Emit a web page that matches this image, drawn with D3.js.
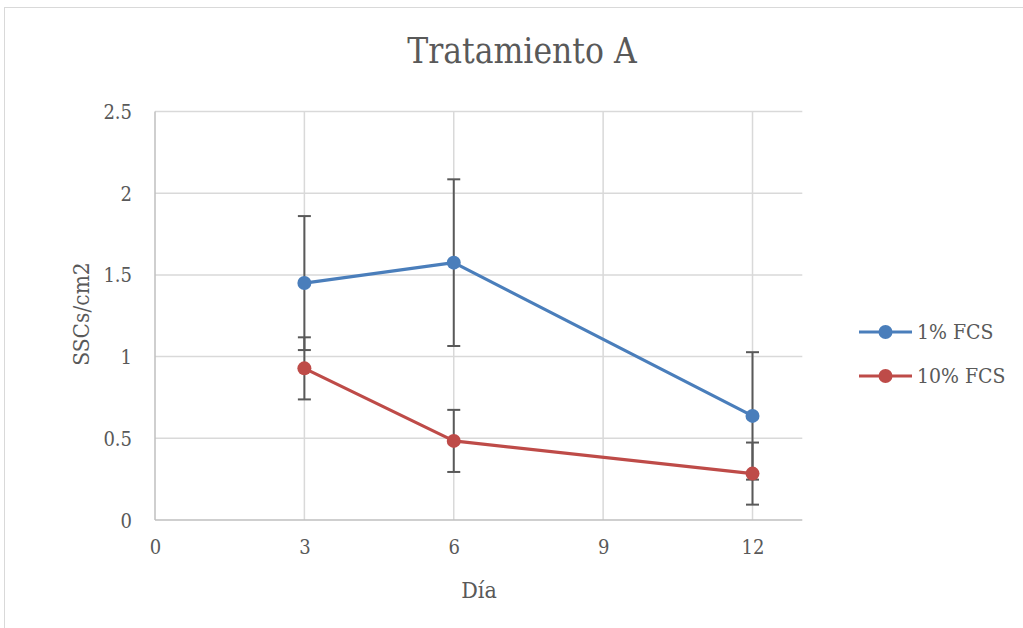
<!DOCTYPE html>
<html><head><meta charset="utf-8">
<script src="https://cdn.jsdelivr.net/npm/d3@7"></script>
<style>
body{margin:0;background:#fff;}
svg text{font-family:"DejaVu Serif Condensed","DejaVu Serif",serif;font-stretch:condensed;fill:#595959;}
</style></head><body>
<svg id="c" width="1023" height="628"></svg>
<script>
const days = [3, 6, 12];
const seriesNames = ["1% FCS", "10% FCS"];
const colors = ["#4a7ebb", "#be4b48"];
const fcs1 = [1.45, 1.575, 0.637];
const fcs1Err = [0.41, 0.51, 0.39];
const fcs10 = [0.928, 0.484, 0.284];
const fcs10Err = [0.19, 0.19, 0.19];
const xTicks = [0, 3, 6, 9, 12];
const yTicks = [0, 0.5, 1, 1.5, 2, 2.5];

const svg = d3.select("#c");
svg.append("rect").attr("x",4.5).attr("y",7.5).attr("width",1030).attr("height",640)
  .attr("fill","#fff").attr("stroke","#d9d9d9").attr("stroke-width",1);

const x = d3.scaleLinear().domain([0,13]).range([155,802.3]);
const y = d3.scaleLinear().domain([0,2.5]).range([520,111.5]);

// gridlines
const g = svg.append("g");
g.selectAll(".hg").data(yTicks.filter(d=>d>0)).enter().append("line")
  .attr("x1",155).attr("x2",802.3).attr("y1",d=>y(d)).attr("y2",d=>y(d))
  .attr("stroke","#d9d9d9").attr("stroke-width",1.5);
g.selectAll(".vg").data(xTicks.filter(d=>d>0)).enter().append("line")
  .attr("x1",d=>x(d)).attr("x2",d=>x(d)).attr("y1",111.5).attr("y2",520)
  .attr("stroke","#d9d9d9").attr("stroke-width",1.5);
// axes lines
g.append("line").attr("x1",155).attr("x2",155).attr("y1",111.5).attr("y2",520).attr("stroke","#bfbfbf").attr("stroke-width",1.5);
g.append("line").attr("x1",155).attr("x2",802.3).attr("y1",520).attr("y2",520).attr("stroke","#bfbfbf").attr("stroke-width",1.5);

// axis labels via d3 axes
const yAxis = svg.append("g").attr("transform","translate(155,0)")
  .call(d3.axisLeft(y).tickValues(yTicks).tickSize(0).tickPadding(23).tickFormat(d=>String(d)));
yAxis.select(".domain").remove();
yAxis.selectAll("text").attr("font-size",20).style("fill","#595959").attr("dy","0.35em");
const xAxis = svg.append("g").attr("transform","translate(0,520)")
  .call(d3.axisBottom(x).tickValues(xTicks).tickSize(0).tickPadding(20).tickFormat(d=>String(d)));
xAxis.select(".domain").remove();
xAxis.selectAll("text").attr("font-size",20).style("fill","#595959");

// titles
svg.append("text").attr("x",522).attr("y",63).attr("text-anchor","middle").attr("font-size",35).text("Tratamiento A");
svg.append("text").attr("x",479).attr("y",598).attr("text-anchor","middle").attr("font-size",23).text("Día");
svg.append("text").attr("transform","translate(89,314) rotate(-90)").attr("text-anchor","middle").attr("font-size",22.5).text("SSCs/cm2");

const data = [
  {name:seriesNames[0], color:colors[0], vals:fcs1, errs:fcs1Err},
  {name:seriesNames[1], color:colors[1], vals:fcs10, errs:fcs10Err}
];
const line = d3.line().x(d=>x(d.x)).y(d=>y(d.y));

// lines
data.forEach(s=>{
  const pts = days.map((d,i)=>({x:d,y:s.vals[i],e:s.errs[i]}));
  svg.append("path").datum(pts).attr("d",line).attr("fill","none").attr("stroke",s.color).attr("stroke-width",3.2).attr("stroke-linejoin","round");
});
// error bars
data.forEach(s=>{
  const pts = days.map((d,i)=>({x:d,y:s.vals[i],e:s.errs[i]}));
  const eg = svg.append("g").attr("stroke","#595959").attr("stroke-width",2);
  pts.forEach(p=>{
    eg.append("line").attr("x1",x(p.x)).attr("x2",x(p.x)).attr("y1",y(p.y+p.e)).attr("y2",y(p.y-p.e));
    [p.y+p.e,p.y-p.e].forEach(v=>eg.append("line").attr("x1",x(p.x)-6.5).attr("x2",x(p.x)+6.5).attr("y1",y(v)).attr("y2",y(v)));
  });
});
// markers
data.forEach(s=>{
  svg.append("g").selectAll("circle").data(days.map((d,i)=>({x:d,y:s.vals[i]}))).enter().append("circle")
    .attr("cx",d=>x(d.x)).attr("cy",d=>y(d.y)).attr("r",7).attr("fill",s.color);
});

// legend
data.forEach((s,i)=>{
  const ly = 332 + i*44;
  svg.append("line").attr("x1",859).attr("x2",912).attr("y1",ly).attr("y2",ly).attr("stroke",s.color).attr("stroke-width",3.2);
  svg.append("circle").attr("cx",885.5).attr("cy",ly).attr("r",7).attr("fill",s.color);
  svg.append("text").attr("x",917).attr("y",ly).attr("dy","0.35em").attr("font-size",21).text(s.name);
});
</script>
</body></html>
